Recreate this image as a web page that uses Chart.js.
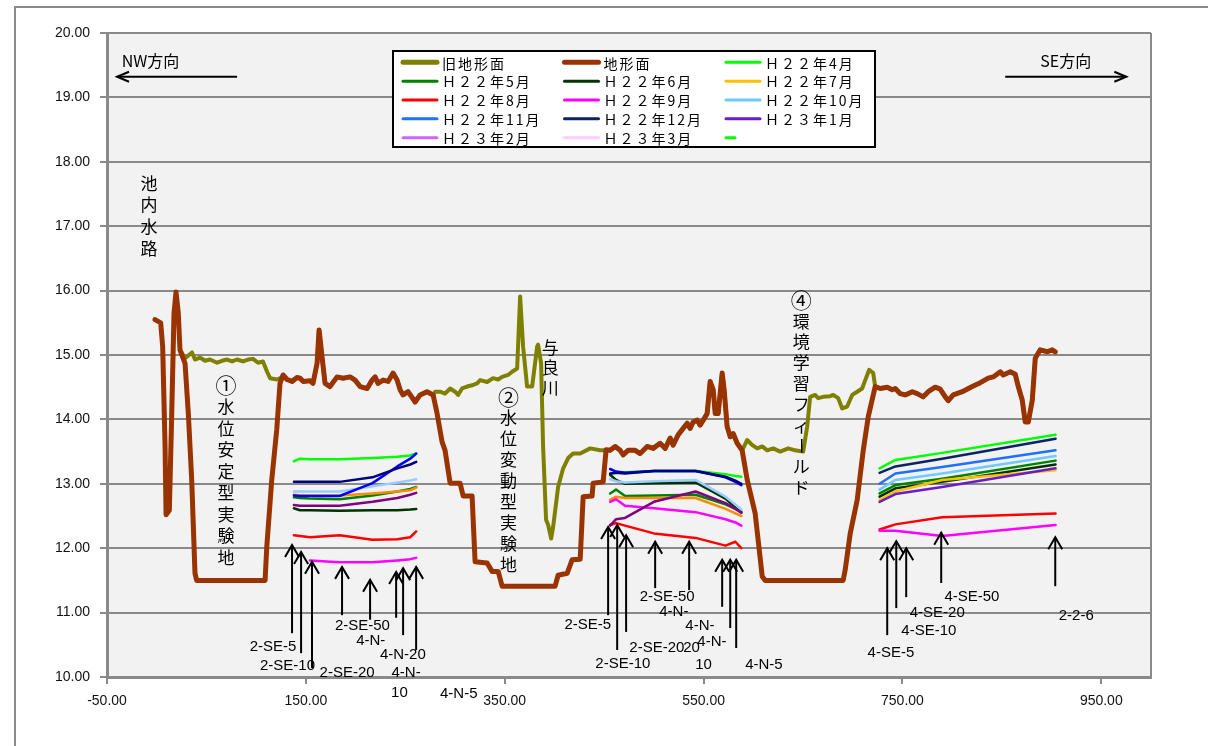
<!DOCTYPE html>
<html><head><meta charset="utf-8">
<script src="https://cdn.jsdelivr.net/npm/chart.js@4/dist/chart.umd.min.js"></script>
<style>html,body{margin:0;padding:0;background:#fff;}#wrap{width:1208px;height:746px;}</style>
</head><body><div id="wrap"><canvas id="c" width="1208" height="746"></canvas></div>
<script>
// ---------- tick labels ----------
const xTickValues = [-50, 150, 350, 550, 750, 950];
const yTickValues = [10, 11, 12, 13, 14, 15, 16, 17, 18, 19, 20];

// ---------- terrain profiles [distance, elevation] ----------
const terrain = [[-1.7,15.55],[4.0,15.50],[6.0,15.13],[8.4,13.58],[9.4,12.52],[12.7,12.59],[15.1,14.09],[17.4,15.65],[19.4,15.98],[21.7,15.65],[23.4,15.08],[28.5,14.87],[31.8,14.09],[35.2,13.06],[38.5,11.61],[40.2,11.50],[109.0,11.50],[110.7,12.02],[115.7,13.06],[120.7,13.84],[124.0,14.56],[127.1,14.69],[131.1,14.62],[136.1,14.59],[141.1,14.65],[144.2,14.64],[147.2,14.59],[154.2,14.60],[157.2,14.56],[161.3,14.87],[163.3,15.39],[166.3,14.97],[169.3,14.56],[174.3,14.51],[181.4,14.66],[187.4,14.64],[194.5,14.66],[199.5,14.61],[204.5,14.51],[211.6,14.48],[216.6,14.61],[219.6,14.66],[222.6,14.56],[227.7,14.61],[232.7,14.59],[237.7,14.72],[241.8,14.61],[244.8,14.46],[247.8,14.38],[252.8,14.43],[259.9,14.27],[264.9,14.38],[271.9,14.43],[278.0,14.38],[282.0,14.09],[287.0,13.65],[290.0,13.52],[295.1,13.01],[305.1,13.01],[308.2,12.81],[317.2,12.81],[320.2,11.79],[332.3,11.77],[337.3,11.64],[343.4,11.64],[347.4,11.41],[400.7,11.41],[403.7,11.58],[412.8,11.61],[417.8,11.82],[425.9,11.83],[428.9,12.80],[437.9,12.81],[438.9,13.01],[449.0,13.03],[452.0,13.53],[456.0,13.52],[461.1,13.58],[466.1,13.52],[469.1,13.45],[474.1,13.52],[481.2,13.52],[486.2,13.47],[493.3,13.58],[499.3,13.55],[506.3,13.63],[511.4,13.55],[516.4,13.71],[519.4,13.60],[524.4,13.76],[529.5,13.86],[533.5,13.94],[536.5,13.86],[539.5,13.96],[543.6,13.99],[546.6,13.91],[553.6,14.09],[556.6,14.59],[559.7,14.46],[561.7,14.09],[564.7,14.09],[568.7,14.72],[570.7,14.46],[573.7,13.89],[576.8,13.73],[579.8,13.78],[583.8,13.63],[588.8,13.52],[593.9,13.06],[601.9,12.54],[609.0,11.56],[612.0,11.50],[690.4,11.50],[692.4,11.66],[697.5,12.23],[704.5,12.75],[710.6,13.52],[715.6,14.04],[722.6,14.51],[727.7,14.48],[734.7,14.50],[739.7,14.46],[742.8,14.48],[747.8,14.40],[752.8,14.38],[759.9,14.43],[764.9,14.40],[770.9,14.35],[776.0,14.43],[783.0,14.50],[788.0,14.47],[793.1,14.35],[796.1,14.29],[801.1,14.38],[810.2,14.43],[820.2,14.51],[828.3,14.57],[836.3,14.64],[841.4,14.66],[848.4,14.74],[851.4,14.69],[858.5,14.74],[863.5,14.70],[866.5,14.51],[870.5,14.30],[873.5,13.96],[876.6,13.96],[880.6,14.30],[883.6,14.95],[888.6,15.08],[895.7,15.05],[900.7,15.08],[903.7,15.05]];

const oldTerrain = [[23.4,15.08],[28.5,14.95],[35.5,15.04],[38.5,14.93],[43.6,14.96],[48.6,14.91],[53.6,14.93],[60.7,14.88],[65.7,14.91],[70.7,14.93],[75.8,14.90],[80.8,14.93],[86.8,14.90],[91.9,14.93],[96.9,14.94],[101.9,14.88],[106.9,14.90],[111.0,14.74],[114.0,14.64],[121.0,14.62],[127.1,14.66],[131.1,14.62],[136.1,14.59],[141.1,14.65],[144.2,14.64],[147.2,14.59],[154.2,14.60],[157.2,14.56],[161.3,14.87],[163.3,15.39],[166.3,14.97],[169.3,14.56],[174.3,14.51],[181.4,14.66],[187.4,14.64],[194.5,14.66],[199.5,14.61],[204.5,14.51],[211.6,14.48],[216.6,14.61],[219.6,14.66],[222.6,14.56],[227.7,14.61],[232.7,14.59],[237.7,14.72],[241.8,14.61],[244.8,14.46],[247.8,14.38],[252.8,14.43],[259.9,14.27],[264.9,14.38],[271.9,14.43],[278.0,14.38],[280.0,14.43],[285.0,14.43],[290.0,14.40],[295.1,14.48],[300.1,14.43],[303.1,14.38],[307.1,14.48],[312.2,14.51],[317.2,14.53],[322.2,14.56],[325.3,14.61],[332.3,14.58],[338.3,14.64],[343.4,14.62],[347.4,14.66],[353.4,14.69],[357.4,14.74],[362.5,14.79],[365.5,15.91],[368.5,15.13],[372.5,14.51],[377.6,14.51],[382.6,15.13],[383.6,15.16],[386.6,14.87],[388.6,13.58],[391.6,12.44],[393.7,12.36],[396.7,12.15],[398.7,12.33],[403.7,12.95],[408.8,13.24],[413.8,13.40],[418.8,13.47],[425.9,13.47],[436.0,13.55],[446.0,13.52],[453.0,13.52],[456.0,13.52],[461.1,13.58],[466.1,13.52],[469.1,13.45],[474.1,13.52],[481.2,13.52],[486.2,13.47],[493.3,13.58],[499.3,13.55],[506.3,13.63],[511.4,13.55],[516.4,13.71],[519.4,13.60],[524.4,13.76],[529.5,13.86],[533.5,13.94],[536.5,13.86],[539.5,13.96],[543.6,13.99],[546.6,13.91],[553.6,14.09],[556.6,14.59],[559.7,14.46],[561.7,14.09],[564.7,14.09],[568.7,14.72],[570.7,14.46],[573.7,13.89],[576.8,13.73],[579.8,13.78],[583.8,13.63],[588.8,13.52],[593.9,13.68],[599.0,13.60],[604.0,13.55],[609.0,13.58],[614.0,13.52],[620.0,13.55],[627.1,13.50],[635.1,13.55],[642.1,13.52],[650.2,13.50],[654.2,13.89],[657.2,14.35],[662.2,14.38],[665.3,14.33],[670.3,14.35],[677.3,14.36],[680.4,14.38],[685.4,14.33],[689.4,14.17],[694.4,14.20],[699.5,14.38],[704.5,14.43],[709.5,14.48],[712.6,14.61],[716.6,14.77],[720.6,14.72],[722.6,14.51],[727.7,14.48],[734.7,14.50],[739.7,14.46],[742.8,14.48],[747.8,14.40],[752.8,14.38],[759.9,14.43],[764.9,14.40],[770.9,14.35],[776.0,14.43],[783.0,14.50],[788.0,14.47],[793.1,14.35],[796.1,14.29],[801.1,14.38],[810.2,14.43],[820.2,14.51],[828.3,14.57],[836.3,14.64],[841.4,14.66],[848.4,14.74],[851.4,14.69],[858.5,14.74],[863.5,14.70],[866.5,14.51],[870.5,14.30],[873.5,13.96],[876.6,13.96],[880.6,14.30],[883.6,14.95],[888.6,15.08],[895.7,15.05],[900.7,15.08],[903.7,15.05]];

// ---------- observation well positions (distance) ----------
const pondAX = [138, 144, 154, 184, 217, 242, 255, 261];   // ① 水位安定型実験地
const pondBX = [456, 462, 471, 500, 542, 572, 582, 588];   // ② 水位変動型実験地
const fieldX = [727, 743, 790, 904];                       // ④ 環境学習フィールド

// ---------- groundwater levels per month (pond A 8, pond B 8, field 4) ----------
const h22m04 = [13.35,13.39,13.38,13.38,13.40,13.42,13.44,13.47, 13.15,13.17,13.18,13.20,13.20,13.15,13.12,13.11, 13.24,13.37,13.48,13.76];
const h22m05 = [12.79,12.78,12.77,12.76,12.82,12.88,12.92,12.95, 12.85,12.91,12.81,12.82,12.83,12.68,12.61,12.57, 12.85,12.98,13.08,13.36];
const h22m06 = [12.62,12.59,12.59,12.58,12.59,12.59,12.60,12.61, 13.14,13.06,13.00,13.01,13.02,12.77,12.63,12.55, 12.80,12.93,13.03,13.30];
const h22m07 = [12.83,12.82,12.82,12.82,12.85,12.88,12.90,12.94, 12.75,12.80,12.78,12.78,12.78,12.61,12.54,12.50, 12.75,12.88,13.06,13.21];
const h22m08 = [12.20,12.19,12.17,12.20,12.13,12.14,12.17,12.26, 12.36,12.39,12.35,12.23,12.16,12.04,12.10,12.00, 12.29,12.37,12.48,12.54];
const h22m09 = [null,null,11.81,11.78,11.78,11.81,11.83,11.85, 12.72,12.76,12.66,12.62,12.56,12.45,12.40,12.35, 12.27,12.27,12.19,12.36];
const h22m10 = [12.88,12.88,12.88,12.88,12.96,13.02,13.05,13.07, 13.07,13.04,13.02,13.04,13.06,12.80,12.68,12.60, 12.91,13.06,13.16,13.43];
const h22m11 = [12.82,12.81,12.81,12.81,13.01,13.27,13.39,13.47, 13.23,13.19,13.17,13.20,13.20,13.10,13.03,12.98, 13.00,13.16,13.26,13.52];
const h22m12 = [13.03,13.03,13.03,13.03,13.10,13.24,13.30,13.34, 13.16,13.17,13.16,13.20,13.20,13.11,13.05,13.00, 13.17,13.27,13.39,13.70];
const h23m01 = [12.67,12.66,12.66,12.66,12.72,12.78,12.83,12.86, 12.35,12.45,12.47,12.72,12.88,12.70,12.61,12.55, 12.72,12.84,12.95,13.24];
const h23m02 = [];
const h23m03 = [];

const monthLabels = ['Ｈ２２年4月','Ｈ２２年5月','Ｈ２２年6月','Ｈ２２年7月','Ｈ２２年8月','Ｈ２２年9月','Ｈ２２年10月','Ｈ２２年11月','Ｈ２２年12月','Ｈ２３年1月','Ｈ２３年2月','Ｈ２３年3月'];
const monthValues = [h22m04,h22m05,h22m06,h22m07,h22m08,h22m09,h22m10,h22m11,h22m12,h23m01,h23m02,h23m03];
const monthColors = ['#00ff00','#008000','#003300','#ffc000','#ff0000','#ff00ff','#6fcaff','#1f70ff','#0c2262','#6a1ccc','#cc66ff','#ffccff'];
const pondColors  = ['#00ff00','#008000','#003300','#ff8c00','#ff0000','#ff00ff','#99ccff','#0000ff','#000080','#800080','#cc66ff','#ffccff'];

// ---------- well arrows and labels ----------
const arrowX    = [136.1,145.2,156.2,186.4,214.6,240.8,247.8,260.9, 454.0,463.1,472.1,501.3,535.5,568.7,576.8,582.8, 734.7,743.8,753.8,789.0,903.7];
const arrowTip  = [12.05,11.94,11.79,11.71,11.51,11.63,11.69,11.71, 12.33,12.36,12.20,12.10,12.10,11.82,11.82,11.82, 12.00,12.11,12.00,12.24,12.17];
const arrowTail = [10.68,10.37,10.14,10.96,10.89,10.92,10.65,10.42, 10.96,10.42,10.70,11.38,11.35,11.09,10.76,10.45, 10.65,11.07,11.24,11.46,11.41];
const wellLabels = ['2-SE-5','2-SE-10','2-SE-20','2-SE-50','4-N-','4-N-20','4-N-','10','4-N-5',
  '2-SE-5','2-SE-10','2-SE-50','4-N-','4-N-','2-SE-20','20','4-N-','10','4-N-5',
  '4-SE-5','4-SE-10','4-SE-20','4-SE-50','2-2-6'];
const wellLabelX = [117.0,131.5,191.5,206.9,215.3,247.5,250.8,244.1,303.8,
  433.6,468.8,513.4,520.1,546.3,503.0,537.9,558.4,549.9,610.7,
  738.4,776.6,785.0,819.9,924.8];
const wellLabelY = [10.47,10.17,10.07,10.80,10.56,10.34,10.07,9.75,9.74,
  10.81,10.20,11.25,11.01,10.79,10.45,10.45,10.55,10.19,10.19,
  10.37,10.71,11.00,11.25,10.95];

// ---------- vertical area names ----------
const areaNames = ['池内水路','①水位安定型実験地','②水位変動型実験地','与良川','④環境学習フィールド'];
const areaNameX = [-7.7, 69.7, 353.7, 395.7, 648.2];
const areaNameY = [17.67, 14.53, 14.35, 15.11, 15.85];
const areaNameStep = [21.7, 21.5, 21.0, 20.0, 20.8];

// ---------- direction captions ----------
const dirText = ['NW方向', 'SE方向'];
const dirTextX = [-6.2, 914.3];
const dirArrowFrom = [80.8, 853.4];
const dirArrowTo = [-39.9, 975.2];

// ---------- build datasets ----------
const CJK = '"Noto Sans CJK JP", "Noto Sans", sans-serif';
const LAT = '"Liberation Sans", Arial, sans-serif';
const wellX = [...pondAX, ...pondBX, ...fieldX];
const breaks = [pondAX.length, pondAX.length + pondBX.length];
function wellPoints(vals) {
  const pts = [];
  if (!vals.length) return pts;
  wellX.forEach((x, i) => {
    if (breaks.includes(i)) pts.push({x: wellX[i - 1], y: null});
    pts.push({x: x, y: vals[i] == null ? null : vals[i]});
  });
  return pts;
}
const datasets = [
  {label:'旧地形面', data: oldTerrain.map(p => ({x:p[0], y:p[1]})), borderColor:'#808000', borderWidth:4, order:100},
  {label:'地形面', data: terrain.map(p => ({x:p[0], y:p[1]})), borderColor:'#993300', borderWidth:5, order:99}
];
monthLabels.forEach((lab, i) => {
  datasets.push({
    label: lab, data: wellPoints(monthValues[i]), borderColor: monthColors[i], borderWidth: 2.5, order: -i,
    segment: {borderColor: c => (c.p0.parsed.x < fieldX[0] - 20 ? pondColors[i] : monthColors[i])}
  });
});
datasets.forEach(d => { d.showLine = true; d.pointRadius = 0; d.pointHoverRadius = 0; d.tension = 0; d.spanGaps = false; d.borderJoinStyle = 'round'; d.borderCapStyle = 'round'; d.fill = false; });

// ---------- plugins ----------
const GRID = '#898989';
const backdrop = {
  id: 'backdrop',
  beforeDraw(chart) {
    const {ctx, chartArea: a} = chart;
    ctx.save();
    ctx.fillStyle = '#ffffff'; ctx.fillRect(0, 0, chart.width, chart.height);
    ctx.strokeStyle = GRID; ctx.lineWidth = 2;
    ctx.beginPath(); ctx.moveTo(15, chart.height + 5); ctx.lineTo(15, 7); ctx.lineTo(chart.width + 5, 7); ctx.stroke();
    ctx.fillStyle = '#f2f2f2'; ctx.fillRect(a.left, a.top, a.right - a.left, a.bottom - a.top);
    ctx.restore();
  },
  beforeDatasetsDraw(chart) {
    const {ctx, chartArea: a} = chart;
    ctx.save(); ctx.strokeStyle = GRID; ctx.lineWidth = 2;
    ctx.beginPath(); ctx.moveTo(a.right, a.top); ctx.lineTo(a.right, a.bottom); ctx.stroke();
    ctx.restore();
  }
};
function arrowLine(ctx, x1, y1, x2, y2, head, half) {
  ctx.beginPath(); ctx.moveTo(x1, y1); ctx.lineTo(x2, y2); ctx.stroke();
  const ang = Math.atan2(y2 - y1, x2 - x1), c = Math.cos(ang), s = Math.sin(ang);
  ctx.beginPath();
  ctx.moveTo(x2 - head * c + half * s, y2 - head * s - half * c);
  ctx.lineTo(x2, y2);
  ctx.lineTo(x2 - head * c - half * s, y2 - head * s + half * c);
  ctx.stroke();
}
const circled = '①②③④';
const annotations = {
  id: 'annotations',
  afterDatasetsDraw(chart) {
    const {ctx} = chart; const xs = chart.scales.x, ys = chart.scales.y;
    const px = v => xs.getPixelForValue(v), py = v => ys.getPixelForValue(v);
    ctx.save();
    ctx.strokeStyle = '#000'; ctx.fillStyle = '#000'; ctx.lineWidth = 2; ctx.lineCap = 'butt';
    arrowX.forEach((x, i) => arrowLine(ctx, px(x), py(arrowTail[i]), px(x), py(arrowTip[i]), 12, 7));
    ctx.font = '15px ' + LAT; ctx.textAlign = 'center'; ctx.textBaseline = 'middle';
    wellLabels.forEach((t, i) => ctx.fillText(t, px(wellLabelX[i]), py(wellLabelY[i])));
    areaNames.forEach((name, k) => {
      [...name].forEach((ch, j) => {
        const cx = px(areaNameX[k]), cy = py(areaNameY[k]) + j * areaNameStep[k];
        ctx.font = (circled.includes(ch) ? '21px ' : '17px ') + CJK;
        if (ch === 'ー') { ctx.save(); ctx.translate(cx, cy); ctx.rotate(Math.PI / 2); ctx.fillText(ch, 0, 0); ctx.restore(); }
        else ctx.fillText(ch, cx, cy);
      });
    });
    ctx.font = '16px ' + CJK;
    dirText.forEach((t, i) => {
      ctx.fillText(t, px(dirTextX[i]), py(19.56));
      arrowLine(ctx, px(dirArrowFrom[i]), py(19.32), px(dirArrowTo[i]), py(19.32), 12, 5);
    });
    ctx.restore();
  }
};
const boxLegend = {
  id: 'boxLegend',
  afterDraw(chart) {
    const {ctx} = chart;
    const box = {x: 393, y: 51, w: 482, h: 96};
    const colStep = 161.5, rowStep = 18.85, firstRow = 62.3, sampleX = 10, sampleLen = 34;
    ctx.save();
    ctx.fillStyle = '#fff'; ctx.fillRect(box.x, box.y, box.w, box.h);
    ctx.beginPath(); ctx.rect(box.x, box.y, box.w, box.h); ctx.clip();
    const items = chart.data.datasets.map(d => ({text: d.label, color: d.borderColor, width: d.borderWidth >= 4 ? 5 : 3, len: sampleLen}));
    items.push({text: '', color: '#00ff00', width: 3, len: 9});
    ctx.font = '14px ' + CJK; ctx.textBaseline = 'middle'; ctx.textAlign = 'left';
    try { ctx.letterSpacing = '2px'; } catch (e) {}
    items.forEach((it, i) => {
      const col = i % 3, row = Math.floor(i / 3);
      const x0 = box.x + sampleX + col * colStep, y0 = firstRow + row * rowStep;
      ctx.strokeStyle = it.color; ctx.lineWidth = it.width; ctx.lineCap = 'round';
      ctx.beginPath(); ctx.moveTo(x0, y0); ctx.lineTo(x0 + it.len, y0); ctx.stroke();
      ctx.fillStyle = '#000'; ctx.fillText(it.text, x0 + sampleLen + 5, y0 + 1);
    });
    ctx.restore();
    ctx.save(); ctx.strokeStyle = '#000'; ctx.lineWidth = 2; ctx.strokeRect(box.x, box.y, box.w, box.h); ctx.restore();
  }
};

new Chart(document.getElementById('c'), {
  type: 'scatter',
  data: {datasets},
  options: {
    responsive: false, animation: false, devicePixelRatio: 1,
    layout: {padding: {top: 33, right: 57, left: 0, bottom: 0}},
    plugins: {legend: {display: false}, tooltip: {enabled: false}},
    scales: {
      x: {
        type: 'linear', min: -50, max: 1000,
        afterBuildTicks: s => { s.ticks = xTickValues.map(v => ({value: v})); },
        afterFit: s => { s.height = 69; },
        grid: {display: true, drawOnChartArea: false, drawTicks: true, tickLength: 7, color: GRID, lineWidth: 2},
        border: {display: true, color: GRID, width: 3},
        ticks: {font: {family: LAT, size: 14}, color: '#111', padding: 9, maxRotation: 0, autoSkip: false, callback: v => Number(v).toFixed(2)}
      },
      y: {
        type: 'linear', min: 10, max: 20,
        afterBuildTicks: s => { s.ticks = yTickValues.map(v => ({value: v})); },
        afterFit: s => { s.width = 107; },
        grid: {color: GRID, lineWidth: 2, tickLength: 7, drawTicks: true},
        border: {display: true, color: GRID, width: 3},
        ticks: {font: {family: LAT, size: 14}, color: '#111', padding: 10, callback: v => Number(v).toFixed(2)}
      }
    }
  },
  plugins: [backdrop, annotations, boxLegend]
});
</script>
</body></html>
